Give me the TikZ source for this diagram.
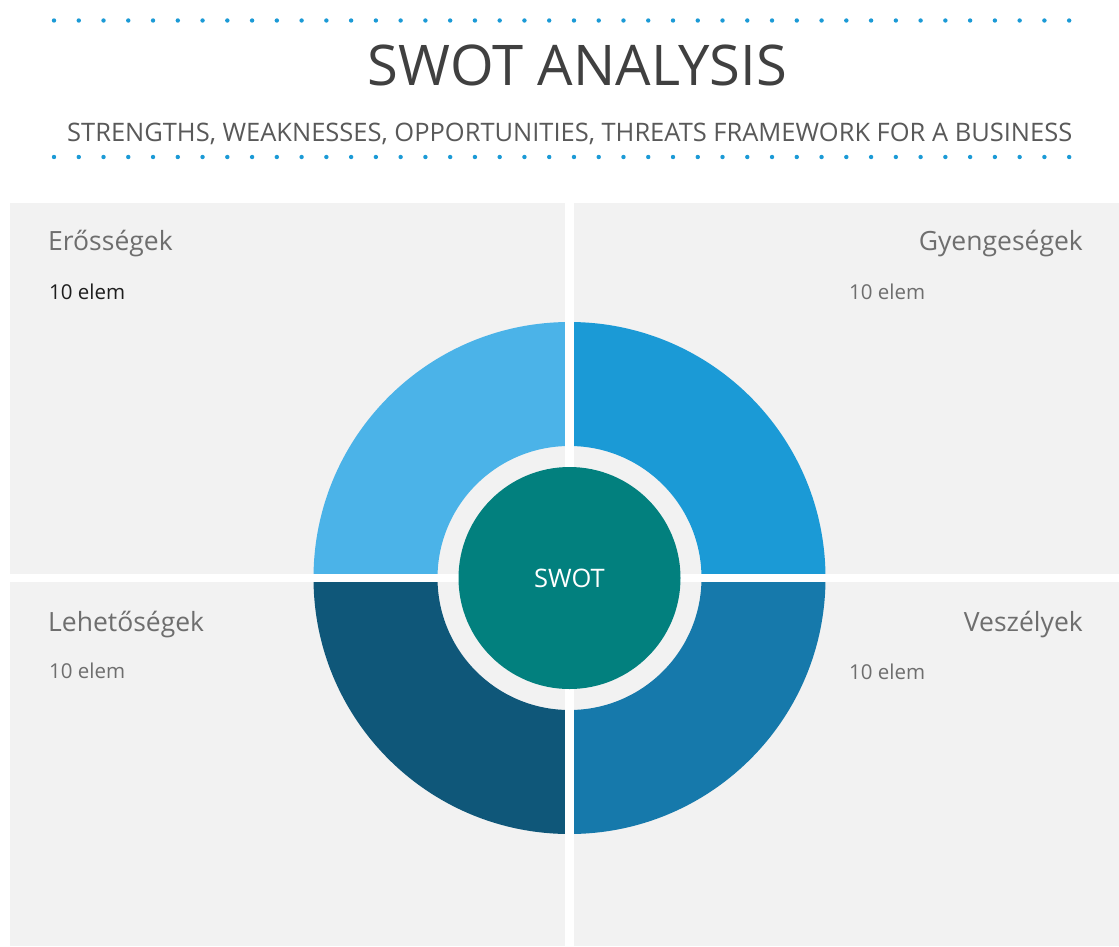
\documentclass[tikz,border=0pt]{standalone}
\usepackage{fontspec}
\usepackage{graphicx}
\setmainfont{Open Sans}
\definecolor{panel}{HTML}{F2F2F2}
\definecolor{qtl}{HTML}{4BB3E8}
\definecolor{qtr}{HTML}{1B9AD6}
\definecolor{qbl}{HTML}{0F5779}
\definecolor{qbr}{HTML}{1679AB}
\definecolor{core}{HTML}{02807E}
\definecolor{dotc}{HTML}{1B9AD6}
\definecolor{titlec}{HTML}{404040}
\definecolor{subc}{HTML}{595959}
\definecolor{labc}{HTML}{6E6E6E}
\definecolor{darkc}{HTML}{1E1E1E}
\tikzset{
  quadlabel/.style={inner sep=0pt, text=labc, font=\fontsize{26.5}{30}\selectfont},
  countlabel/.style={inner sep=0pt, text=labc, font=\fontsize{20.5}{24}\selectfont},
  dotmark/.style={fill=dotc},
}
\begin{document}
\begin{tikzpicture}[x=1pt,y=-1pt]
\useasboundingbox (0,0) rectangle (1119,946);
\fill[white] (0,0) rectangle (1119,946);
% dotted rules
\foreach \i in {0,...,41}{
  \fill[dotmark] (54+\i*24.76,20.5) circle (2.2pt);
  \fill[dotmark] (54+\i*24.76,157) circle (2.2pt);
}
% title
\node[inner sep=0pt, anchor=base, text=titlec] (title) at (577.5,85)
  {\resizebox{419pt}{!}{SWOT ANALYSIS}};
\node[inner sep=0pt, anchor=base west, text=subc] (subtitle) at (67,141)
  {\resizebox{1005pt}{!}{STRENGTHS, WEAKNESSES, OPPORTUNITIES, THREATS FRAMEWORK FOR A BUSINESS}};
% panel
\fill[panel] (10,203) rectangle (1119,946);
% ring quadrants
\coordinate (c) at (569.5,578);
\begin{scope}
  \clip (0,0) rectangle (569.5,578);
  \fill[qtl, even odd rule] (c) circle (256pt) (c) circle (132pt);
\end{scope}
\begin{scope}
  \clip (569.5,0) rectangle (1119,578);
  \fill[qtr, even odd rule] (c) circle (256pt) (c) circle (132pt);
\end{scope}
\begin{scope}
  \clip (0,578) rectangle (569.5,946);
  \fill[qbl, even odd rule] (c) circle (256pt) (c) circle (132pt);
\end{scope}
\begin{scope}
  \clip (569.5,578) rectangle (1119,946);
  \fill[qbr, even odd rule] (c) circle (256pt) (c) circle (132pt);
\end{scope}
% white cross
\fill[white] (565,203) rectangle (574,946);
\fill[white] (10,574) rectangle (1119,582);
% core
\node[circle, fill=core, minimum size=222pt, inner sep=0pt, text=white,
  font=\fontsize{25.5}{30}\selectfont] (swot) at (c) {SWOT};
% labels
\node[quadlabel, anchor=base west] (s) at (48,250) {Erősségek};
\node[countlabel, anchor=base west, text=darkc] (sn) at (49,299) {10 elem};
\node[quadlabel, anchor=base east] (w) at (1083,250) {Gyengeségek};
\node[countlabel, anchor=base west] (wn) at (849,299) {10 elem};
\node[quadlabel, anchor=base west] (o) at (48,631) {Lehetőségek};
\node[countlabel, anchor=base west] (on) at (49,678) {10 elem};
\node[quadlabel, anchor=base east] (t) at (1083,631) {Veszélyek};
\node[countlabel, anchor=base west] (tn) at (849,679) {10 elem};
\end{tikzpicture}
\end{document}
